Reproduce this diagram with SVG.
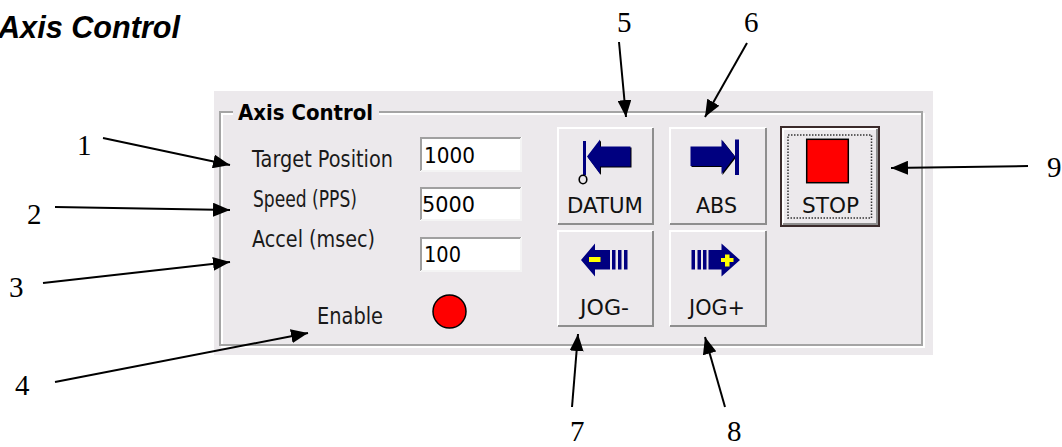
<svg xmlns="http://www.w3.org/2000/svg" width="1062" height="447" viewBox="0 0 1062 447">
<style>
.num{font-family:"Liberation Serif","Times New Roman",serif;font-size:29px;fill:#000}
.lbl{font-family:"DejaVu Sans","Liberation Sans",sans-serif;font-size:23px;fill:#1a1a1a}
.btxt{font-family:"DejaVu Sans","Liberation Sans",sans-serif;font-size:22px;fill:#111}
.val{font-family:"DejaVu Sans","Liberation Sans",sans-serif;font-size:22px;fill:#000}
.face{fill:#ECE9EC}
.hi{fill:none;stroke:#FFFFFF;stroke-width:2}
.sh{fill:none;stroke:#8E8E8E;stroke-width:2}
.conn{stroke:#000;stroke-width:2;fill:none;marker-end:url(#ah)}
.navy{fill:#000080}
.blk{fill:#000}
.yel{fill:#FFFF00}
</style>
<defs>
<marker id="ah" markerUnits="userSpaceOnUse" markerWidth="18" markerHeight="14" viewBox="0 0 18 14" refX="17" refY="7" orient="auto">
<path d="M0,0 L17,7 L0,14 Z" fill="#000"/>
</marker>
</defs>
<rect width="1062" height="447" fill="#FFFFFF"/>
<text x="-2" y="38" font-family="Liberation Sans, Arial, sans-serif" font-size="32" font-weight="bold" font-style="italic" textLength="182" lengthAdjust="spacingAndGlyphs">Axis Control</text>

<g id="panel">
<rect x="214" y="91" width="719" height="264" fill="#ECE9EC"/>
<rect x="222" y="114" width="702" height="233" fill="none" stroke="#FFFFFF" stroke-width="2"/>
<rect x="220" y="112" width="702" height="233" fill="none" stroke="#A4A4A4" stroke-width="2"/>
<rect x="233" y="102" width="146" height="16" fill="#ECE9EC"/>
<text x="238" y="120" font-family="DejaVu Sans, Liberation Sans, sans-serif" font-size="21" font-weight="bold" fill="#000" textLength="135" lengthAdjust="spacingAndGlyphs">Axis Control</text>
</g>

<g id="target-position">
<text class="lbl" x="252" y="167" textLength="141" lengthAdjust="spacingAndGlyphs">Target Position</text>
<rect x="420" y="137" width="102" height="35" fill="#FFFFFF"/>
<path d="M421,171 V138 H521" fill="none" stroke="#A0A0A0" stroke-width="2"/>
<path d="M521,138 V171 H421" fill="none" stroke="#F4F4F4" stroke-width="2"/>
<text class="val" x="424" y="163" textLength="51" lengthAdjust="spacingAndGlyphs">1000</text>
</g>

<g id="speed">
<text class="lbl" x="253" y="207" textLength="104" lengthAdjust="spacingAndGlyphs">Speed (PPS)</text>
<rect x="420" y="187" width="102" height="34" fill="#FFFFFF"/>
<path d="M421,220 V188 H521" fill="none" stroke="#A0A0A0" stroke-width="2"/>
<path d="M521,188 V220 H421" fill="none" stroke="#F4F4F4" stroke-width="2"/>
<text class="val" x="422" y="212" textLength="53" lengthAdjust="spacingAndGlyphs">5000</text>
</g>

<g id="accel">
<text class="lbl" x="252" y="247" textLength="123" lengthAdjust="spacingAndGlyphs">Accel (msec)</text>
<rect x="420" y="237" width="102" height="35" fill="#FFFFFF"/>
<path d="M421,271 V238 H521" fill="none" stroke="#A0A0A0" stroke-width="2"/>
<path d="M521,238 V271 H421" fill="none" stroke="#F4F4F4" stroke-width="2"/>
<text class="val" x="424" y="262" textLength="37" lengthAdjust="spacingAndGlyphs">100</text>
</g>

<g id="enable">
<text class="lbl" x="317" y="324" textLength="66" lengthAdjust="spacingAndGlyphs">Enable</text>
<circle cx="449.5" cy="311.5" r="16.5" fill="#FF0000" stroke="#000" stroke-width="1.5"/>
</g>

<g id="btn-datum">
<rect class="face" x="557" y="127" width="97" height="98"/>
<path class="hi" d="M558,224 V128 H653"/>
<path class="sh" d="M653,128 V224 H558"/>
<polygon class="blk" points="588,157.5 601,140.5 601,147.5 631.5,147.5 631.5,167.5 601,167.5 601,175"/>
<polygon class="navy" points="587,156.5 600,139.5 600,146.5 630.5,146.5 630.5,166.5 600,166.5 600,174"/>
<rect class="navy" x="583" y="141" width="3" height="34"/>
<ellipse cx="583" cy="179.5" rx="3.8" ry="4.2" fill="none" stroke="#000" stroke-width="1.6"/>
<text class="btxt" x="567" y="213" textLength="76" lengthAdjust="spacingAndGlyphs">DATUM</text>
</g>

<g id="btn-abs">
<rect class="face" x="669" y="127" width="98" height="98"/>
<path class="hi" d="M670,224 V128 H766"/>
<path class="sh" d="M766,128 V224 H670"/>
<polygon class="blk" points="691.5,147.5 722.5,147.5 722.5,140.5 736,157.5 722.5,175 722.5,167 691.5,167"/>
<polygon class="navy" points="690.5,146.5 721.5,146.5 721.5,139.5 735,156.5 721.5,174 721.5,166 690.5,166"/>
<rect class="navy" x="735" y="139.5" width="4" height="35.5"/>
<text class="btxt" x="696" y="213" textLength="41" lengthAdjust="spacingAndGlyphs">ABS</text>
</g>

<g id="btn-stop">
<rect class="face" x="781" y="127" width="98" height="99"/>
<path class="hi" d="M783,224 V129 H877"/>
<path class="sh" d="M877,129 V224 H783"/>
<rect x="781" y="127" width="98" height="99" fill="none" stroke="#3B2B2B" stroke-width="2"/>
<rect x="788" y="135" width="83.5" height="83" fill="none" stroke="#333" stroke-width="1.5" stroke-dasharray="1.5 1.5"/>
<rect x="806.7" y="139.3" width="41.6" height="43.4" fill="#FF0000" stroke="#000" stroke-width="1.5"/>
<text class="btxt" x="802" y="213" textLength="57" lengthAdjust="spacingAndGlyphs">STOP</text>
</g>

<g id="btn-jog-minus">
<rect class="face" x="557" y="230" width="97" height="97"/>
<path class="hi" d="M558,326 V231 H653"/>
<path class="sh" d="M653,231 V326 H558"/>
<polygon class="navy" points="581,260 595,243.5 595,250 610,250 610,269.5 595,269.5 595,276.5"/>
<rect class="navy" x="612" y="250" width="3.5" height="19.5"/>
<rect class="navy" x="618" y="250" width="3.5" height="19.5"/>
<rect class="navy" x="624" y="250" width="3.5" height="19.5"/>
<rect class="yel" x="589" y="257" width="11.5" height="5"/>
<text class="btxt" x="580" y="315" textLength="49" lengthAdjust="spacingAndGlyphs">JOG-</text>
</g>

<g id="btn-jog-plus">
<rect class="face" x="669" y="230" width="98" height="97"/>
<path class="hi" d="M670,326 V231 H766"/>
<path class="sh" d="M766,231 V326 H670"/>
<rect class="navy" x="691.5" y="250" width="3.5" height="19.5"/>
<rect class="navy" x="697.5" y="250" width="3.5" height="19.5"/>
<rect class="navy" x="703" y="250" width="3.5" height="19.5"/>
<polygon class="navy" points="708.5,250 721.5,250 721.5,243.5 740,260 721.5,276.5 721.5,269.5 708.5,269.5"/>
<rect class="yel" x="721" y="258" width="12.5" height="4"/>
<rect class="yel" x="725" y="254.5" width="4.5" height="12"/>
<text class="btxt" x="689" y="315" textLength="56" lengthAdjust="spacingAndGlyphs">JOG+</text>
</g>

<g id="connectors">
<line class="conn" x1="103" y1="138" x2="230" y2="165"/>
<line class="conn" x1="55" y1="207" x2="230" y2="210"/>
<line class="conn" x1="43" y1="283" x2="230" y2="262"/>
<line class="conn" x1="55" y1="382" x2="308" y2="333"/>
<line class="conn" x1="619" y1="42" x2="626" y2="117"/>
<line class="conn" x1="747" y1="43" x2="705" y2="117"/>
<line class="conn" x1="572" y1="407" x2="578" y2="334"/>
<line class="conn" x1="725" y1="407" x2="705" y2="337"/>
<line class="conn" x1="1028" y1="166" x2="891" y2="168"/>
</g>

<g id="numbers">
<text class="num" x="77" y="155">1</text>
<text class="num" x="27" y="224">2</text>
<text class="num" x="9" y="297">3</text>
<text class="num" x="15" y="395">4</text>
<text class="num" x="617" y="32">5</text>
<text class="num" x="744" y="32">6</text>
<text class="num" x="570" y="441">7</text>
<text class="num" x="727" y="441">8</text>
<text class="num" x="1047" y="177">9</text>
</g>
</svg>
